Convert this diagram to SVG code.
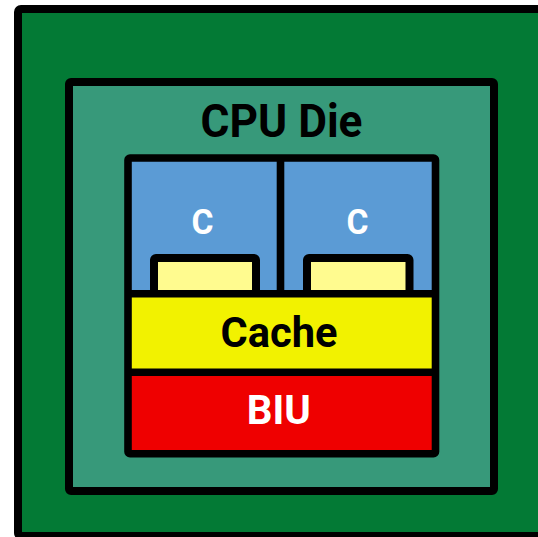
<svg xmlns="http://www.w3.org/2000/svg" width="538" height="537" viewBox="0 0 538 537">
  <style>
    .box { stroke: #000; stroke-width: 8; stroke-linejoin: round; }
    .line { stroke: #000; stroke-width: 7.6; fill: none; }
    .lbl { font-family: Roboto, "DejaVu Sans Condensed", sans-serif; font-weight: bold; text-anchor: middle; }
  </style>

  <!-- package substrate -->
  <g id="package">
    <rect class="box" x="18" y="9" width="540" height="527" rx="3" fill="#037a35"/>
  </g>

  <!-- die outline and title -->
  <g id="cpu-die">
    <rect class="box" x="69" y="82" width="425" height="409" rx="2" fill="#37997a"/>
    <text class="lbl" x="281.5" y="136.7" font-size="47" fill="#000" textLength="162" lengthAdjust="spacingAndGlyphs">CPU Die</text>
  </g>

  <!-- core 1 -->
  <g id="core-1">
    <rect x="128" y="158" width="152.5" height="136" fill="#5b9bd5"/>
    <text class="lbl" x="202.5" y="233.6" font-size="35" fill="#fff" textLength="22" lengthAdjust="spacingAndGlyphs">C</text>
    <rect class="box" x="154" y="258" width="102" height="36" rx="2" fill="#fffb8f" stroke-width="7.6"/>
  </g>

  <!-- core 2 -->
  <g id="core-2">
    <rect x="280.5" y="158" width="155" height="136" fill="#5b9bd5"/>
    <text class="lbl" x="357.5" y="233.6" font-size="35" fill="#fff" textLength="22" lengthAdjust="spacingAndGlyphs">C</text>
    <rect class="box" x="307" y="258" width="102.5" height="36" rx="2" fill="#fffb8f" stroke-width="7.6"/>
  </g>

  <!-- shared cache -->
  <g id="cache">
    <rect x="128" y="294" width="307.5" height="78" fill="#f2f200"/>
    <text class="lbl" x="279" y="347.3" font-size="43" fill="#000" textLength="117" lengthAdjust="spacingAndGlyphs">Cache</text>
  </g>

  <!-- bus interface unit -->
  <g id="biu">
    <rect x="128" y="372" width="307.5" height="82" fill="#ef0000"/>
    <text class="lbl" x="278.7" y="424.3" font-size="40" fill="#fff" textLength="64" lengthAdjust="spacingAndGlyphs">BIU</text>
  </g>

  <!-- block borders and dividers -->
  <g id="connectors">
    <line class="line" x1="280.5" y1="158" x2="280.5" y2="294"/>
    <line class="line" x1="128" y1="293.7" x2="435.5" y2="293.7"/>
    <line class="line" x1="128" y1="372.3" x2="435.5" y2="372.3"/>
    <rect x="128" y="158" width="307.5" height="295.7" rx="2" fill="none" stroke="#000" stroke-width="7.6" stroke-linejoin="round"/>
  </g>
</svg>
